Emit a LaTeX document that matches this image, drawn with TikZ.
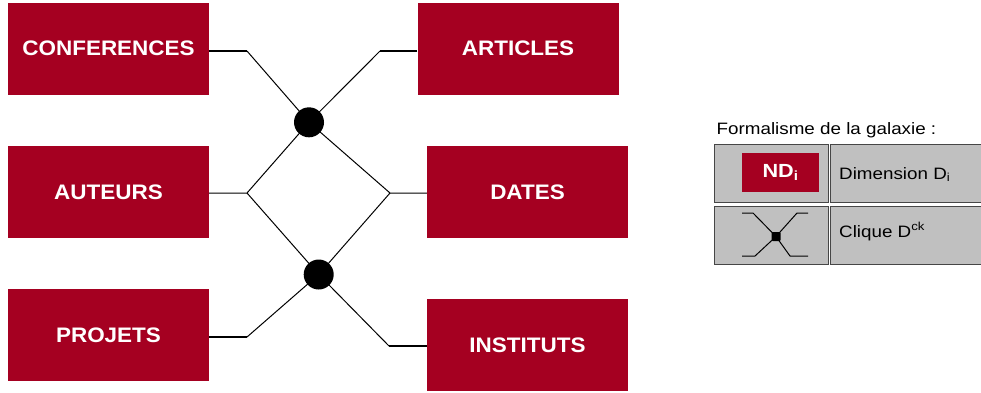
\documentclass[tikz,border=0pt]{standalone}
\usepackage{fontspec}
\newfontfamily\boxfont{Liberation Sans}[FakeStretch=1.07]
\newfontfamily\ndfont{Liberation Sans}[FakeStretch=1.14]
\newfontfamily\legfont{Liberation Sans}[FakeStretch=1.14]
\definecolor{bordeaux}{RGB}{165,0,33}
\definecolor{legray}{RGB}{192,192,192}
\definecolor{cellline}{RGB}{70,70,70}
\begin{document}
\begin{tikzpicture}[x=1pt,y=-1pt,
  ent/.style={fill=bordeaux, text=white, minimum width=201pt, minimum height=92pt, inner sep=0pt,
    font=\boxfont\bfseries\fontsize{21}{24}\selectfont},
  link/.style={line width=1pt, black},
  stub/.style={line width=1.7pt, black},
  bigdot/.style={circle, fill=black, minimum size=30pt, inner sep=0pt},
  cell/.style={fill=legray, draw=cellline, line width=1pt, anchor=north west, inner sep=0pt, minimum height=58pt},
  legtext/.style={anchor=base west, inner sep=0pt, font=\legfont\fontsize{16.5}{19}\selectfont},
  icon/.style={line width=1pt, black}]
\clip (0,0) rectangle (981,392);
\fill[white] (0,0) rectangle (981,392);

% entity boxes
\node[ent] (conf) at (108.5,48.5) {CONFERENCES};
\node[ent] (art)  at (518,48.5) {ARTICLES};
\node[ent] (aut)  at (108.5,192) {AUTEURS};
\node[ent] (dat)  at (527.5,192) {DATES};
\node[ent] (proj) at (108.5,335) {PROJETS};
\node[ent] (inst) at (527.5,345) {INSTITUTS};

% bend points
\coordinate (b1) at (247,51);
\coordinate (b2) at (380,51);
\coordinate (b3) at (247,193);
\coordinate (b4) at (390,193);
\coordinate (b5) at (247,337);
\coordinate (b6) at (389,346);
\coordinate (d1c) at (309,122.3);
\coordinate (d2c) at (318.7,274.5);

% connectors
\draw[stub] (b1 -| conf.east) -- (b1);
\draw[link] (b1) -- (d1c);
\draw[stub] (b2 -| art.west) -- (b2);
\draw[link] (b2) -- (d1c);
\draw[link] (b3 -| aut.east) -- (b3) -- (d1c);
\draw[link] (b3) -- (d2c);
\draw[link] (b4 -| dat.west) -- (b4) -- (d1c);
\draw[link] (b4) -- (d2c);
\draw[stub] (b5 -| proj.east) -- (b5);
\draw[link] (b5) -- (d2c);
\draw[stub] (b6 -| inst.west) -- (b6);
\draw[link] (b6) -- (d2c);

\node[bigdot] (d1) at (d1c) {};
\node[bigdot] (d2) at (d2c) {};

% legend
\node[legtext] (legtitle) at (716.5,134) {Formalisme de la galaxie :};
\node[cell, minimum width=114pt] (c11) at (714,144) {};
\node[cell, minimum width=170pt] (c12) at (830,144) {};
\node[cell, minimum width=114pt] (c21) at (714,206) {};
\node[cell, minimum width=170pt] (c22) at (830,206) {};

\node[fill=bordeaux, text=white, minimum width=77pt, minimum height=39pt, inner sep=0pt,
  font=\ndfont\bfseries\fontsize{19}{21}\selectfont] (ndi) at (780.5,172.5) {ND\textsubscript{i}};
\node[legtext] (dimtxt) at (839,179) {Dimension D\textsubscript{i}};
\node[legtext] (cliqtxt) at (839,237) {Clique D\textsuperscript{ck}};

% clique icon
\coordinate (q) at (776,236.5);
\draw[icon] (742,213) -- (753,213) -- (q) -- (797,213) -- (808,213);
\draw[icon] (742,256) -- (755,256) -- (q) -- (790,256) -- (808,256);
\node[fill=black, minimum size=9pt, inner sep=0pt, rounded corners=1pt] (qd) at (q) {};
\end{tikzpicture}
\end{document}
